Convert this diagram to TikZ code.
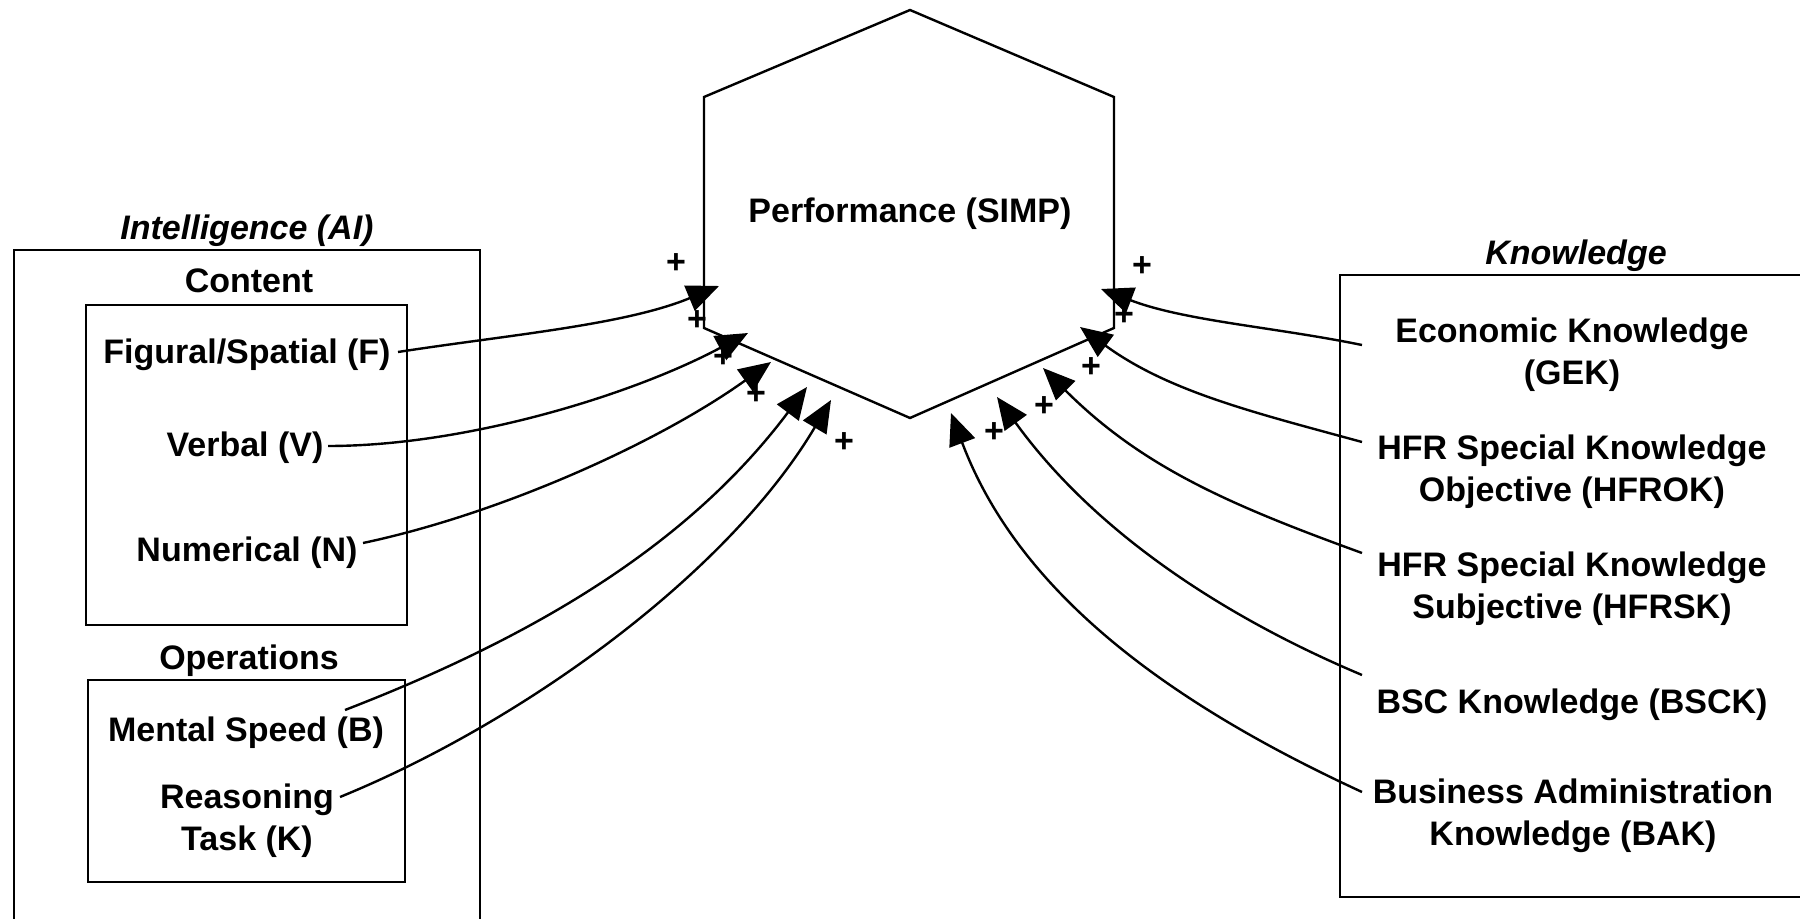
\documentclass[tikz,border=0pt]{standalone}
\usepackage{fontspec}
\setmainfont{Liberation Sans}
\usetikzlibrary{arrows.meta}
\begin{document}
\begin{tikzpicture}[x=0.5pt,y=-0.5pt,
  line width=1.2pt,
  lbl/.style={font=\fontsize{17}{21}\selectfont\bfseries, inner sep=0pt, align=center, anchor=base},
  ttl/.style={font=\fontsize{17}{21}\selectfont\bfseries\itshape, inner sep=0pt, anchor=base},
  sign/.style={font=\fontsize{17}{20}\selectfont\bfseries, inner sep=0pt},
  link/.style={-{Triangle[length=16pt,width=13.5pt]}, line width=1.2pt},
]
\useasboundingbox (0,0) rectangle (1800,919);
\clip (0,0) rectangle (1800,919);
\fill[white] (0,0) rectangle (1800,919);

% ---------- performance hexagon ----------
\draw (910,10) -- (1114,97) -- (1114,328) -- (910,418) -- (704,328) -- (704,97) -- cycle;
\node[lbl] (simp) at (910,223) {Performance (SIMP)};

% ---------- intelligence block ----------
\draw (14,930) -- (14,250) -- (480,250) -- (480,930);
\node[ttl] (ai) at (247,240) {Intelligence (AI)};
\node[lbl] (content) at (249,293) {Content};
\draw (86,305) rectangle (407,625);
\node[lbl] (nF) at (247,364) {Figural/Spatial (F)};
\node[lbl] (nV) at (245,457) {Verbal (V)};
\node[lbl] (nN) at (247,561) {Numerical (N)};
\node[lbl] (ops) at (249,669) {Operations};
\draw (88,680) rectangle (405,882);
\node[lbl] (nB) at (246,741) {Mental Speed (B)};
% multi-line labels are placed by the baseline of their last line
\node[lbl] (nK) at (247,850) {Reasoning\\Task (K)};

% ---------- knowledge block ----------
\draw (1340,275) rectangle (1820,897);
\node[ttl] (know) at (1576,265) {Knowledge};
\node[lbl] (nGEK) at (1572,385) {Economic Knowledge\\(GEK)};
\node[lbl] (nHO) at (1572,502) {HFR Special Knowledge\\Objective (HFROK)};
\node[lbl] (nHS) at (1572,618) {HFR Special Knowledge\\Subjective (HFRSK)};
\node[lbl] (nBSC) at (1572,713) {BSC Knowledge (BSCK)};
\node[lbl] (nBAK) at (1573,845) {Business Administration\\Knowledge (BAK)};

% ---------- connector ends ----------
\coordinate (sF) at (398,352);   \coordinate (tF) at (719,286);
\coordinate (sV) at (328,446);   \coordinate (tV) at (748,333);
\coordinate (sN) at (363,543);   \coordinate (tN) at (771,362);
\coordinate (sB) at (345,710);   \coordinate (tB) at (807,387);
\coordinate (sK) at (340,797);   \coordinate (tK) at (831,400);
\coordinate (sGEK) at (1362,345); \coordinate (tGEK) at (1101,289);
\coordinate (sHO) at (1362,442);  \coordinate (tHO) at (1080,327);
\coordinate (sHS) at (1362,553);  \coordinate (tHS) at (1043,368);
\coordinate (sBSC) at (1362,675); \coordinate (tBSC) at (997,397);
\coordinate (sBAK) at (1362,792); \coordinate (tBAK) at (951,413);

% ---------- effects on performance ----------
\draw[link] (sF) .. controls (508,335) and (625,325) .. (tF);
\draw[link] (sV) .. controls (468,446) and (634,394) .. (tV);
\draw[link] (sN) .. controls (500,514) and (658,443) .. (tN);
\draw[link] (sB) .. controls (531,638) and (687,547) .. (tB);
\draw[link] (sK) .. controls (526,721) and (729,572) .. (tK);
\draw[link] (sGEK) .. controls (1274,327) and (1185,321) .. (tGEK);
\draw[link] (sHO) .. controls (1256,413) and (1169,392) .. (tHO);
\draw[link] (sHS) .. controls (1230,505) and (1142,467) .. (tHS);
\draw[link] (sBSC) .. controls (1215,613) and (1091,527) .. (tBSC);
\draw[link] (sBAK) .. controls (1180,708) and (1021,599) .. (tBAK);

% ---------- signs ----------
\node[sign] (pF) at (676,264) {+};
\node[sign] (pV) at (697,321) {+};
\node[sign] (pN) at (723,358) {+};
\node[sign] (pB) at (756,395) {+};
\node[sign] (pK) at (844,443) {+};
\node[sign] (pGEK) at (1142,267) {+};
\node[sign] (pHO) at (1124,316) {+};
\node[sign] (pHS) at (1091,368) {+};
\node[sign] (pBSC) at (1044,407) {+};
\node[sign] (pBAK) at (994,433) {+};
\end{tikzpicture}
\end{document}
